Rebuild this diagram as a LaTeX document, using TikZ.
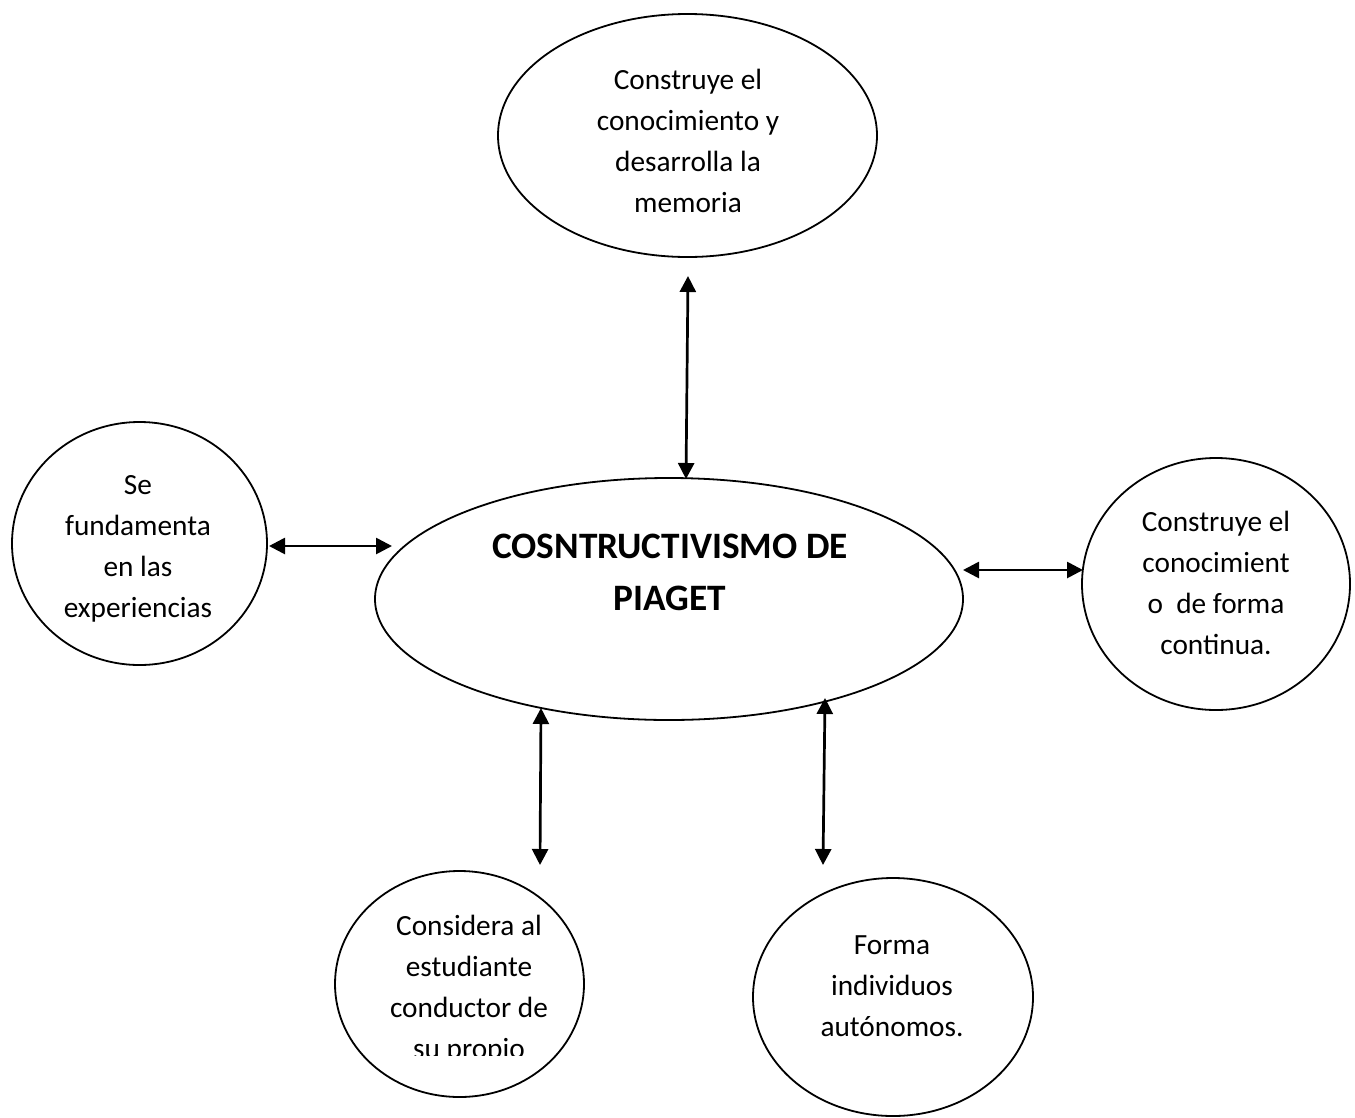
\documentclass[tikz,border=0pt]{standalone}
\usepackage{fontspec}
\setmainfont{Carlito}
\usetikzlibrary{shapes.geometric,arrows.meta}
\begin{document}
\begin{tikzpicture}[x=1pt,y=-1pt,
  bubble/.style={draw=black,line width=1.8pt,ellipse,inner sep=0pt},
  txt/.style={align=center,inner sep=0pt,font=\fontsize{29.3}{41.2}\selectfont},
  bigtxt/.style={align=center,inner sep=0pt,font=\fontsize{37.3}{52}\selectfont\bfseries},
  link/.style={line width=2.7pt,{Triangle[length=16pt,width=16pt]}-{Triangle[length=16pt,width=16pt]}}]
\useasboundingbox[fill=white] (0,0) rectangle (1355,1117);
% shapes
\node[bubble,minimum width=379pt,minimum height=243pt] (top) at (687.5,135.5) {};
\node[bubble,minimum width=588pt,minimum height=242pt] (center) at (669,599) {};
\node[bubble,minimum width=255pt,minimum height=243pt] (left) at (139.5,543.5) {};
\node[bubble,minimum width=268pt,minimum height=252pt] (right) at (1216,584) {};
\node[bubble,minimum width=249pt,minimum height=226pt] (bl) at (459.5,984) {};
\node[bubble,minimum width=280pt,minimum height=238pt] (br) at (893,997) {};
% texts
\node[txt] (toptxt) at (688,141) {Construye el\\conocimiento y\\desarrolla la\\memoria};
\node[bigtxt] (centertxt) at (670,572) {COSNTRUCTIVISMO DE\\PIAGET};
\node[txt] (lefttxt) at (138,549) {Se\\fundamenta\\en las\\experiencias};
\node[txt] (righttxt) at (1216,583) {Construye el\\conocimient\\o~ de forma\\continua.};
\begin{scope}
\clip (330,880) rectangle (600,1055);
\node[txt] (bltxt) at (469,989) {Considera al\\estudiante\\conductor de\\su propio};
\end{scope}
\node[txt] (brtxt) at (892,986) {Forma\\individuos\\autónomos.};
% connector ends
\coordinate (t1) at (688,276);
\coordinate (t2) at (686,479);
\coordinate (l1) at (269,546);
\coordinate (l2) at (392,546);
\coordinate (r1) at (963,570);
\coordinate (r2) at (1083,570);
\coordinate (b1) at (541,708);
\coordinate (b2) at (540,865);
\coordinate (c1) at (825,698);
\coordinate (c2) at (823,865);
\draw[link] (t1) -- (t2);
\draw[link] (l1) -- (l2);
\draw[link] (r1) -- (r2);
\draw[link] (b1) -- (b2);
\draw[link] (c1) -- (c2);
\end{tikzpicture}
\end{document}
